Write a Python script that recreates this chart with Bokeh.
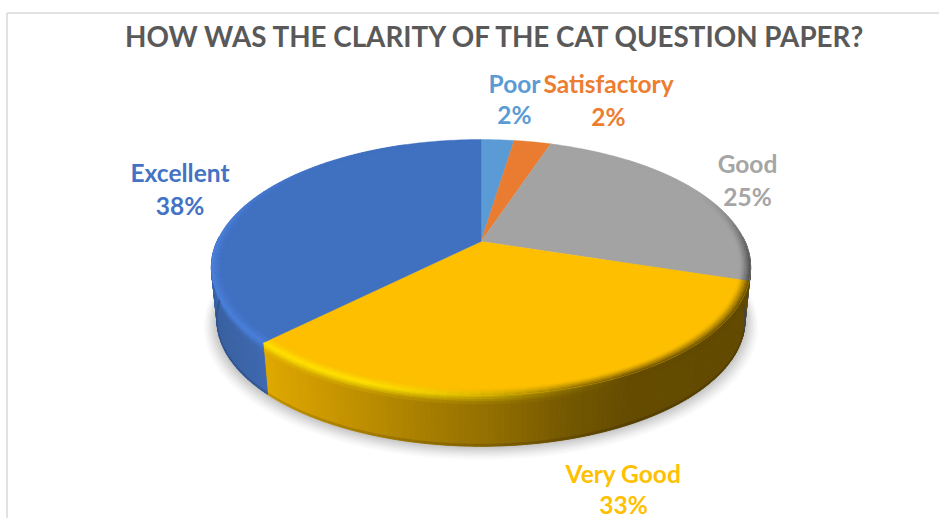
import numpy as np
from bokeh.plotting import figure
from bokeh.embed import file_html
from bokeh.resources import INLINE
from bokeh.models import Range1d
from bokeh.core.properties import value

TITLE = "HOW WAS THE CLARITY OF THE CAT QUESTION PAPER?"
categories = ["Poor", "Satisfactory", "Good", "Very Good", "Excellent"]
shares = [2.4, 2.7, 24.8, 32.6, 37.5]
pct_labels = ["2%", "2%", "25%", "33%", "38%"]

# styling
top_col = ["#5b9bd5", "#e97c30", "#a3a3a3", "#fdbf00", "#4070c0"]
text_col = ["#5b9bd5", "#ed7d31", "#a5a5a5", "#ffc000", "#4472c4"]
label_cx = [514, 608, 747, 623, 179.5]
label_y1 = [83, 83, 163, 473, 172]
label_y2 = [114, 116, 196, 503.5, 205]

W, H = 939, 518
CX, CY, A, B, K = 480.5, 241.0, 264.0, 122.7, 0.203
CY2, A2, B2 = 294.0, 258.5, 120.9


def proj(r, t, base=False, scale=1.0, dy=0.0):
    a = np.radians(t)
    u, v = r * np.sin(a), r * np.cos(a)
    d = 1 + K * v
    if base:
        return CX + scale * A2 * u / d, CY2 + dy - scale * B2 * v / d
    return CX + A * u / d, CY - B * v / d


def hex2(c):
    return np.array([int(c[i:i + 2], 16) for i in (1, 3, 5)], float)


def mix(c1, c2, s):
    s = float(np.clip(s, 0, 1))
    x = hex2(c1) * (1 - s) + hex2(c2) * s
    return "#%02x%02x%02x" % tuple(int(round(q)) for q in x)


def smooth(a, b, x):
    s = np.clip((x - a) / (b - a), 0, 1)
    return s * s * (3 - 2 * s)


edges = np.concatenate([[0], np.cumsum(shares)]) / np.sum(shares) * 360


def slice_of(t):
    t = t % 360
    return min(int(np.searchsorted(edges, t, side="right") - 1), len(shares) - 1)


def grid(t_start, t_stop, step):
    """Angle grid that also stops exactly at every slice boundary."""
    g = np.arange(t_start, t_stop + step, step)
    return np.unique(np.concatenate([g, edges[(edges > t_start) & (edges < t_stop)]]))


def wall_colour(t):
    x = proj(1, t)[0]
    i = slice_of(t)
    if i == 3:
        stops = [(255, "#e2aa00"), (330, "#c89600"), (420, "#a87f00"), (500, "#8f6c00"),
                 (570, "#735700"), (630, "#644b00"), (760, "#624a00")]
        for (x0, c0), (x1, c1) in zip(stops, stops[1:]):
            if x <= x1:
                return mix(c0, c1, (x - x0) / (x1 - x0))
        return stops[-1][1]
    if i == 4:
        return mix("#38609f", "#3f6ab3", (x - 210) / 60)
    return "#4f4f4f"


def edge_colour(t):
    i = slice_of(t)
    if i == 3:
        s = smooth(150, 205, t)
        return mix(wall_colour(t), "#ffe600", s)
    if i == 4:
        s = 1 - smooth(265, 330, t)
        return mix(top_col[4], "#4c82de", s)
    if i == 2:
        return mix(top_col[2], "#4a4a4a", smooth(62, 104, t))
    return top_col[i]


def poly(r0, r1, t0, t1):
    x0, y0 = proj(r0, t0)
    x1, y1 = proj(r1, t0)
    x2, y2 = proj(r1, t1)
    x3, y3 = proj(r0, t1)
    return [x0, x1, x2, x3], [y0, y1, y2, y3]


p = figure(width=W, height=H, x_range=Range1d(0, W), y_range=Range1d(H, 0),
           toolbar_location=None, output_backend="svg", min_border=0,
           outline_line_color=None)
p.axis.visible = False
p.grid.visible = False

# chart frame
p.line([6.5, 6.5], [H, 12.5], line_color="#d9d9d9", line_width=1.5)
p.line([6.5, W], [12.5, 12.5], line_color="#d9d9d9", line_width=1.5)

# soft shadow under the base
ang = np.linspace(60, 300, 160)
for grow, alpha in zip(np.linspace(1.05, 1.005, 8), [0.02, 0.02, 0.025, 0.03, 0.03, 0.035, 0.04, 0.05]):
    sx, sy = proj(1, ang, base=True, scale=grow, dy=(grow - 1) * 120)
    p.patch(list(sx) + [CX], list(sy) + [CY2], fill_color="#000000", fill_alpha=alpha, line_color=None)

# side wall as thin strips
ts = grid(88, 272, 1.0)
wx, wy, wc = [], [], []
for t0, t1 in zip(ts, ts[1:]):
    ax, ay = proj(1, t0)
    bx, by = proj(1, t1)
    cx, cy = proj(1, t1, base=True)
    dx, dy = proj(1, t0, base=True)
    wx.append([ax, bx, cx, dx])
    wy.append([ay, by, cy, dy])
    wc.append(wall_colour((t0 + t1) / 2))
p.patches(wx, wy, fill_color=wc, line_color=wc, line_width=0.9)

# wall just under the rim picks up the edge colour; its foot is a little darker
wx, wy, wc = [], [], []
for t0, t1 in zip(ts, ts[1:]):
    if not 90 <= t0 <= 271:
        continue
    tm = (t0 + t1) / 2
    ec = edge_colour(tm)
    wl = wall_colour(tm)
    ax, ay = proj(1, t0)
    bx, by = proj(1, t1)
    cx, cy = proj(1, t1, base=True)
    dx, dy = proj(1, t0, base=True)
    for f0, f1 in [(0, .04), (.04, .08), (.08, .12), (.12, .17), (.96, 1.0)]:
        wx.append([ax + (dx - ax) * f0, bx + (cx - bx) * f0, bx + (cx - bx) * f1, ax + (dx - ax) * f1])
        wy.append([ay + (dy - ay) * f0, by + (cy - by) * f0, by + (cy - by) * f1, ay + (dy - ay) * f1])
        if f0 > .5:
            wc.append(mix(wl, "#000000", 0.14))
        else:
            wc.append(mix(ec, wl, (f0 + f1) / 2 / .17))
p.patches(wx, wy, fill_color=wc, line_color=wc, line_width=0.6)

# top faces
for i in range(len(shares)):
    tt = np.linspace(edges[i], edges[i + 1], max(6, int(edges[i + 1] - edges[i])))
    rx, ry = proj(1, tt)
    p.patch([CX] + list(rx), [CY] + list(ry), fill_color=top_col[i], line_color=top_col[i], line_width=0.4)

# bevel on the rim of the top faces
rings = [0.962, 0.970, 0.978, 0.986, 0.993, 1.0]
bx, by, bc = [], [], []
tb = grid(40, 340, 2.0)
for t0, t1 in zip(tb, tb[1:]):
    tm = (t0 + t1) / 2
    i = slice_of(tm)
    ec = edge_colour(tm)
    for r0, r1 in zip(rings, rings[1:]):
        s = ((r0 + r1) / 2 - rings[0]) / (1 - rings[0])
        xs_, ys_ = poly(r0, r1, t0, t1)
        bx.append(xs_)
        by.append(ys_)
        bc.append(mix(top_col[i], ec, s ** 1.3))
p.patches(bx, by, fill_color=bc, line_color=bc, line_width=0.3)

# title and labels
p.text([496], [36], text=[TITLE], text_font=value("Lato"), text_font_style="bold", text_font_size="27.8px",
       text_color="#595959", text_align="center", text_baseline="middle")
p.text(label_cx, label_y1, text=categories, text_font=value("Lato"), text_font_style="bold", text_font_size="24.5px",
       text_color=text_col, text_align="center", text_baseline="middle")
p.text(label_cx, label_y2, text=pct_labels, text_font=value("Lato"), text_font_style="bold", text_font_size="24.5px",
       text_color=text_col, text_align="center", text_baseline="middle")

open("out.html", "w").write(file_html(p, INLINE))
